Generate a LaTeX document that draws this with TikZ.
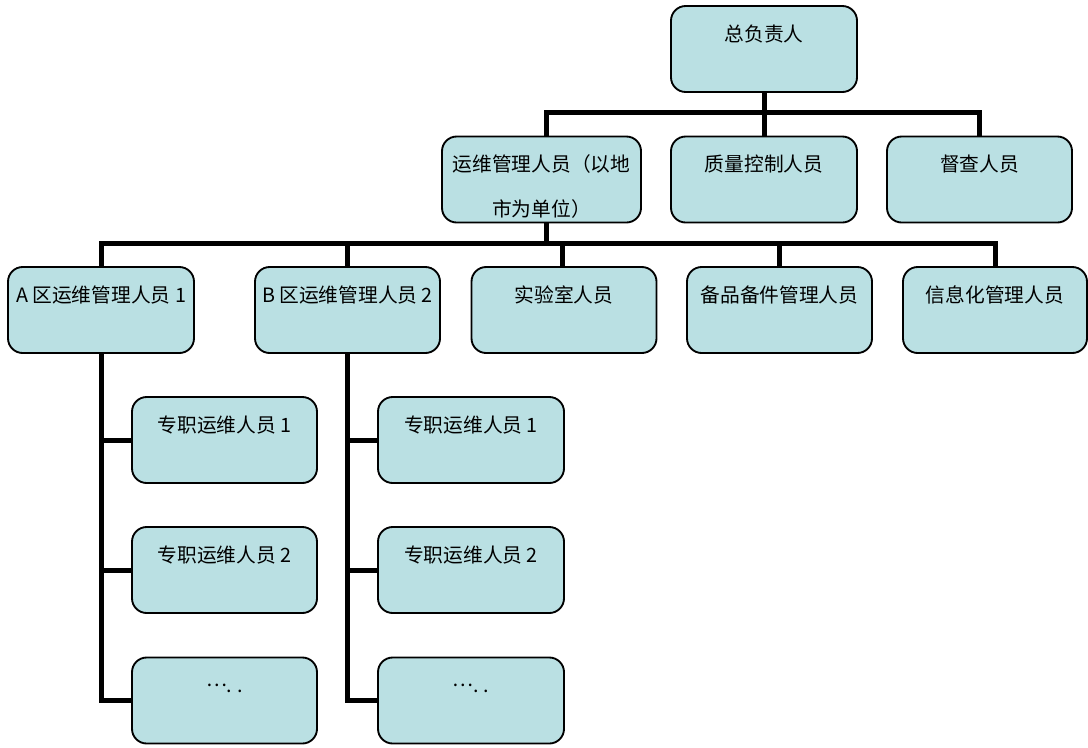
\documentclass[tikz,border=0pt]{standalone}
\usepackage{fontspec}
\setmainfont{Noto Sans CJK SC}
\usetikzlibrary{backgrounds}
\definecolor{boxfill}{RGB}{186,224,227}
\newcommand{\mydots}{\raisebox{0.3em}{…}.\hspace{0.25em}.}
\begin{document}
\begin{tikzpicture}[x=0.75pt,y=-0.75pt,
  box/.style={draw=black, line width=1.4pt, fill=boxfill, rounded corners=11pt,
    inner sep=0pt, minimum width=#1*0.75pt, text height=26.25pt, text depth=38.25pt,
    font=\fontsize{14.8pt}{18pt}\selectfont},
  conn/.style={line width=3.75pt, line join=miter, draw=black}]
\useasboundingbox (0,0) rectangle (1088,747);
% row 1
\node[box=186] (top) at (764,49) {总负责人};
% row 2
\node[box=199] (yw) at (541.5,179.5) {\parbox[t]{149pt}{\centering\fontsize{14.8pt}{33.75pt}\selectfont 运维管理人员（以地\\市为单位）}};
\node[box=186] (zl) at (764,179.5) {质量控制人员};
\node[box=185] (dc) at (979.5,179.5) {督查人员};
% row 3
\node[box=186] (A) at (101,310) {A 区运维管理人员 1};
\node[box=185] (B) at (347.5,310) {B 区运维管理人员 2};
\node[box=185] (sy) at (564,310) {实验室人员};
\node[box=185] (bp) at (779.5,310) {备品备件管理人员};
\node[box=184] (xx) at (995,310) {信息化管理人员};
% children of A
\node[box=185] (a1) at (224.5,440) {专职运维人员 1};
\node[box=185] (a2) at (224.5,570) {专职运维人员 2};
\node[box=185] (a3) at (224.5,700.5) {\mydots};
% children of B
\node[box=186] (b1) at (471,440) {专职运维人员 1};
\node[box=186] (b2) at (471,570) {专职运维人员 2};
\node[box=186] (b3) at (471,700.5) {\mydots};
\coordinate (j1) at (0,112.5);
\coordinate (j2) at (0,243);
\begin{scope}[on background layer]
\draw[conn] (top.south) -- (top.south |- j1);
\draw[conn] ([xshift=4pt]yw.north) -- ([xshift=4pt]yw.north |- j1) -- (dc.north |- j1) -- (dc.north);
\draw[conn] (zl.north) -- (zl.north |- j1);
\draw[conn] ([xshift=4pt]yw.south) -- ([xshift=4pt]yw.south |- j2);
\draw[conn] (A.north) -- (A.north |- j2) -- (xx.north |- j2) -- (xx.north);
\draw[conn] (B.north) -- (B.north |- j2);
\draw[conn] ([xshift=-1pt]sy.north) -- ([xshift=-1pt]sy.north |- j2);
\draw[conn] (bp.north) -- (bp.north |- j2);
\draw[conn] (A.south) |- (a3.west);
\draw[conn] (a1.west) -- (a1.west -| A.south);
\draw[conn] (a2.west) -- (a2.west -| A.south);
\draw[conn] (B.south) |- (b3.west);
\draw[conn] (b1.west) -- (b1.west -| B.south);
\draw[conn] (b2.west) -- (b2.west -| B.south);
\end{scope}
\end{tikzpicture}
\end{document}
